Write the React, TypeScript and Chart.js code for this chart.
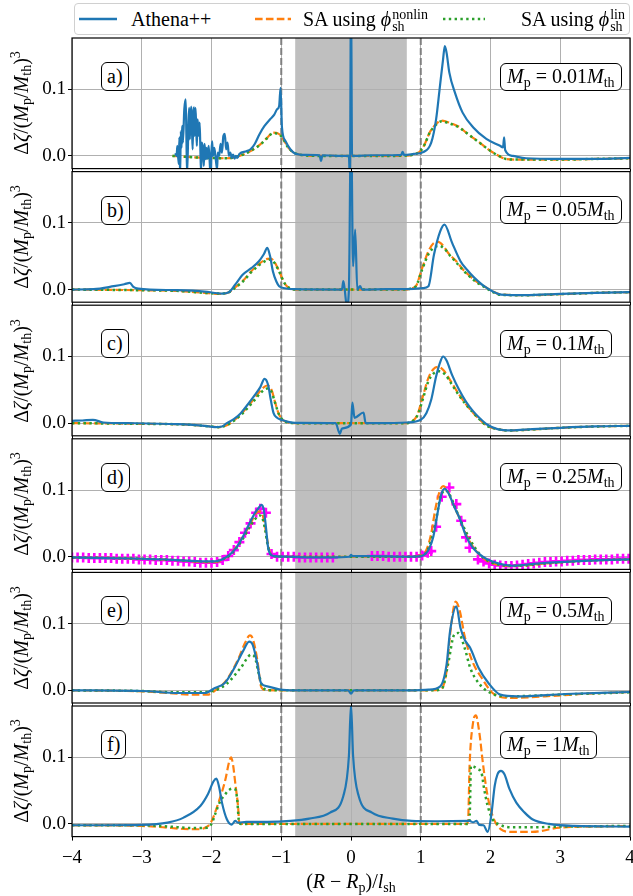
import React, { useEffect, useRef } from "react";
import { Chart, registerables } from "chart.js";

Chart.register(...registerables);

type Pt = [number, number];

// ---------- axes ----------
const xRange: [number, number] = [-4, 4];
const yRange: [number, number] = [-0.019, 0.177];
const xTickValues = [-4, -3, -2, -1, 0, 1, 2, 3, 4];
const yTickValues = [0, 0.1];
const shadedBand: [number, number] = [-0.8, 0.8];
const separatrix = [-1, 1];

const panelTags = ["a)", "b)", "c)", "d)", "e)", "f)"];
const planetMasses = ["0.01", "0.05", "0.1", "0.25", "0.5", "1"];

// ---------- panel a: Mp = 0.01 Mth ----------
const athenaA: Pt[] = [
  [-2.52, 0.004], [-2.5, 0.0], [-2.49, 0.015], [-2.47, -0.012], [-2.46, 0.028], [-2.45, -0.03],
  [-2.44, 0.037], [-2.43, 0.012], [-2.42, 0.045], [-2.41, 0.02], [-2.39, 0.07], [-2.37, 0.085],
  [-2.36, 0.03], [-2.35, -0.028], [-2.33, 0.05], [-2.32, 0.072], [-2.31, 0.025], [-2.3, 0.06],
  [-2.29, 0.074], [-2.28, 0.04], [-2.27, 0.01], [-2.26, 0.065], [-2.25, 0.073], [-2.24, 0.03],
  [-2.23, 0.072], [-2.22, 0.045], [-2.21, 0.015], [-2.2, 0.055], [-2.18, 0.03], [-2.17, 0.05],
  [-2.16, 0.012], [-2.15, -0.025], [-2.14, 0.02], [-2.12, 0.008], [-2.11, -0.015], [-2.1, 0.018],
  [-2.08, -0.005], [-2.07, 0.012], [-2.06, -0.004], [-2.04, 0.015], [-2.02, -0.02], [-2.01, -0.03],
  [-2.0, 0.008], [-1.99, 0.022], [-1.98, 0.0], [-1.96, 0.012], [-1.94, -0.004], [-1.92, -0.02],
  [-1.91, 0.005], [-1.89, 0.0], [-1.87, 0.018], [-1.85, 0.005], [-1.83, 0.03], [-1.81, 0.033],
  [-1.79, 0.01], [-1.77, 0.02], [-1.75, 0.0], [-1.73, 0.005], [-1.71, -0.003], [-1.69, 0.002],
  [-1.67, -0.004], [-1.65, 0.0], [-1.63, -0.003], [-1.6, 0.003], [-1.5, 0.007], [-1.44, 0.01],
  [-1.38, 0.018], [-1.31, 0.033], [-1.24, 0.045], [-1.16, 0.055], [-1.1, 0.062], [-1.06, 0.07],
  [-1.03, 0.075], [-1.01, 0.102], [-0.99, 0.043], [-0.94, 0.0225], [-0.87, 0.01], [-0.8, 0.0035],
  [-0.65, 0.0015], [-0.45, 0.001], [-0.43, -0.0075], [-0.41, 0.001], [-0.1, 0.0], [-0.03, 0.0],
  [-0.015, -0.04], [0.0, 0.26], [0.015, 0.0], [0.05, 0.0], [0.3, 0.001], [0.6, 0.001], [0.72, 0.0015],
  [0.74, 0.006], [0.76, 0.0015], [0.9, 0.003], [1.03, 0.0055], [1.15, 0.02], [1.22, 0.055],
  [1.27, 0.1], [1.32, 0.145], [1.345, 0.165], [1.37, 0.155], [1.41, 0.125], [1.49, 0.095],
  [1.6, 0.065], [1.75, 0.043], [1.94, 0.0255], [2.13, 0.0155], [2.18, 0.013], [2.195, 0.028],
  [2.21, 0.009], [2.32, 0.0], [2.51, -0.0035], [3.0, -0.0045], [3.5, -0.0045], [4.0, -0.003],
];
const nonlinA: Pt[] = [
  [-2.56, 0.0], [-2.16, -0.0025], [-1.78, -0.0035], [-1.6, 0.0], [-1.44, 0.0075], [-1.3, 0.0175],
  [-1.2, 0.0275], [-1.12, 0.035], [-1.04, 0.0335], [-0.97, 0.025], [-0.9, 0.0125], [-0.82, 0.005],
  [-0.68, 0.001], [-0.4, 0.0], [0.5, 0.0], [0.8, 0.0005], [0.9, 0.002], [0.95, 0.004], [1.0, 0.008],
  [1.05, 0.016], [1.13, 0.0355], [1.22, 0.048], [1.3, 0.053], [1.38, 0.051], [1.46, 0.048],
  [1.56, 0.043], [1.65, 0.035], [1.75, 0.027], [1.84, 0.0205], [1.94, 0.012], [2.03, 0.0055],
  [2.12, 0.0], [2.22, -0.0045], [2.4, -0.0055], [3.0, -0.0055], [3.5, -0.0045], [4.0, -0.0035],
];
const linA: Pt[] = [
  [-2.56, 0.0], [-2.16, -0.0025], [-1.78, -0.0035], [-1.6, 0.0], [-1.44, 0.0075], [-1.3, 0.017],
  [-1.2, 0.027], [-1.12, 0.034], [-1.04, 0.033], [-0.97, 0.025], [-0.9, 0.0125], [-0.82, 0.005],
  [-0.68, 0.001], [-0.4, 0.0], [0.5, 0.0], [0.8, 0.0005], [0.9, 0.002], [0.95, 0.004], [1.0, 0.008],
  [1.05, 0.016], [1.13, 0.035], [1.22, 0.047], [1.3, 0.052], [1.38, 0.05], [1.46, 0.047],
  [1.56, 0.042], [1.65, 0.035], [1.75, 0.027], [1.84, 0.02], [1.94, 0.012], [2.03, 0.0055],
  [2.12, 0.0], [2.22, -0.0045], [2.4, -0.0055], [3.0, -0.0055], [3.5, -0.0045], [4.0, -0.0035],
];

// ---------- panel b: Mp = 0.05 Mth ----------
const athenaB: Pt[] = [
  [-4.0, 0.0], [-3.69, 0.0005], [-3.4, 0.005], [-3.25, 0.008], [-3.17, 0.01], [-3.12, 0.004],
  [-3.05, 0.0015], [-2.5, -0.001], [-2.1, -0.003], [-1.85, -0.006], [-1.75, -0.004], [-1.67, 0.006],
  [-1.55, 0.0225], [-1.43, 0.032], [-1.32, 0.0425], [-1.25, 0.053], [-1.2, 0.0625], [-1.16, 0.05],
  [-1.12, 0.0275], [-1.07, 0.012], [-1.03, 0.005], [-0.95, 0.002], [-0.8, 0.0005], [-0.13, 0.0],
  [-0.11, 0.0125], [-0.09, 0.0], [-0.06, -0.025], [-0.03, 0.0], [0.0, 0.26], [0.03, 0.035],
  [0.06, 0.09], [0.09, 0.0], [0.13, 0.005], [0.16, 0.0], [0.5, 0.0005], [0.9, 0.001], [1.03, 0.002],
  [1.11, 0.005], [1.19, 0.0525], [1.28, 0.0875], [1.34, 0.0975], [1.45, 0.07], [1.57, 0.0425],
  [1.66, 0.03], [1.77, 0.0175], [1.91, 0.005], [2.15, -0.0075], [2.5, -0.0085], [3.0, -0.0065],
  [3.5, -0.005], [4.0, -0.004],
];
const nonlinB: Pt[] = [
  [-4.0, 0.0], [-3.0, -0.001], [-2.5, -0.002], [-2.1, -0.005], [-1.9, -0.0065], [-1.75, -0.004],
  [-1.67, 0.0025], [-1.55, 0.013], [-1.43, 0.0275], [-1.3, 0.04], [-1.2, 0.046], [-1.15, 0.0465],
  [-1.09, 0.04], [-1.03, 0.0275], [-0.97, 0.013], [-0.94, 0.0075], [-0.88, 0.002], [-0.8, 0.0],
  [0.8, 0.0], [0.87, 0.002], [0.93, 0.005], [1.02, 0.032], [1.11, 0.0575], [1.18, 0.069],
  [1.25, 0.0715], [1.32, 0.066], [1.4, 0.054], [1.51, 0.0425], [1.59, 0.032], [1.68, 0.0225],
  [1.8, 0.012], [1.91, 0.005], [2.02, -0.002], [2.15, -0.0075], [2.5, -0.0085], [3.0, -0.007],
  [3.5, -0.005], [4.0, -0.004],
];
const linB: Pt[] = [
  [-4.0, 0.0], [-3.0, -0.001], [-2.5, -0.002], [-2.1, -0.005], [-1.9, -0.006], [-1.75, -0.004],
  [-1.67, 0.002], [-1.55, 0.012], [-1.43, 0.026], [-1.3, 0.038], [-1.2, 0.044], [-1.15, 0.045],
  [-1.09, 0.039], [-1.03, 0.027], [-0.97, 0.013], [-0.94, 0.0075], [-0.88, 0.002], [-0.8, 0.0],
  [0.8, 0.0], [0.87, 0.002], [0.93, 0.005], [1.02, 0.03], [1.11, 0.053], [1.19, 0.063],
  [1.27, 0.0655], [1.34, 0.061], [1.42, 0.051], [1.51, 0.0405], [1.59, 0.031], [1.68, 0.0215],
  [1.8, 0.011], [1.91, 0.004], [2.02, -0.003], [2.15, -0.008], [2.5, -0.0085], [3.0, -0.007],
  [3.5, -0.005], [4.0, -0.004],
];

// ---------- panel c: Mp = 0.1 Mth ----------
const athenaC: Pt[] = [
  [-4.0, 0.0035], [-3.85, 0.004], [-3.7, 0.005], [-3.55, 0.001], [-3.2, 0.0], [-2.5, -0.0015],
  [-2.1, -0.004], [-1.95, -0.006], [-1.85, -0.005], [-1.78, 0.0], [-1.68, 0.006], [-1.58, 0.015],
  [-1.48, 0.028], [-1.38, 0.042], [-1.3, 0.054], [-1.24, 0.0665], [-1.19, 0.058], [-1.15, 0.035],
  [-1.11, 0.015], [-1.06, 0.008], [-1.0, 0.005], [-0.9, 0.002], [-0.8, 0.0005], [-0.22, 0.0],
  [-0.16, -0.016], [-0.13, -0.008], [0.0, -0.002], [0.02, 0.031], [0.05, 0.008], [0.18, 0.016],
  [0.21, 0.0], [0.4, 0.0], [0.8, 0.001], [1.0, 0.005], [1.08, 0.015], [1.15, 0.035], [1.22, 0.07],
  [1.28, 0.092], [1.32, 0.1], [1.37, 0.094], [1.45, 0.072], [1.55, 0.05], [1.65, 0.032],
  [1.75, 0.018], [1.85, 0.007], [1.95, -0.002], [2.1, -0.009], [2.3, -0.011], [2.6, -0.009],
  [3.0, -0.007], [3.5, -0.005], [4.0, -0.004],
];
const nonlinC: Pt[] = [
  [-4.0, 0.0], [-3.0, -0.001], [-2.4, -0.002], [-2.0, -0.005], [-1.9, -0.006], [-1.78, -0.003],
  [-1.68, 0.004], [-1.58, 0.013], [-1.48, 0.025], [-1.38, 0.038], [-1.28, 0.051], [-1.2, 0.0565],
  [-1.14, 0.05], [-1.09, 0.032], [-1.04, 0.015], [-0.99, 0.006], [-0.9, 0.001], [-0.8, 0.0],
  [0.8, 0.0], [0.88, 0.003], [0.95, 0.012], [1.03, 0.04], [1.11, 0.068], [1.18, 0.081],
  [1.25, 0.0845], [1.33, 0.079], [1.43, 0.063], [1.53, 0.046], [1.63, 0.031], [1.73, 0.018],
  [1.83, 0.007], [1.95, -0.004], [2.1, -0.009], [2.25, -0.011], [2.6, -0.0095], [3.0, -0.007],
  [3.5, -0.005], [4.0, -0.004],
];
const linC: Pt[] = [
  [-4.0, 0.0], [-3.0, -0.001], [-2.4, -0.002], [-2.0, -0.005], [-1.9, -0.006], [-1.78, -0.003],
  [-1.68, 0.0035], [-1.58, 0.012], [-1.48, 0.023], [-1.38, 0.035], [-1.28, 0.047], [-1.2, 0.052],
  [-1.14, 0.047], [-1.09, 0.031], [-1.04, 0.015], [-0.99, 0.006], [-0.9, 0.001], [-0.8, 0.0],
  [0.8, 0.0], [0.88, 0.003], [0.95, 0.011], [1.03, 0.036], [1.11, 0.063], [1.19, 0.075],
  [1.27, 0.078], [1.35, 0.073], [1.44, 0.059], [1.54, 0.043], [1.64, 0.029], [1.74, 0.017],
  [1.84, 0.006], [1.95, -0.004], [2.1, -0.009], [2.25, -0.011], [2.6, -0.0095], [3.0, -0.007],
  [3.5, -0.005], [4.0, -0.004],
];

// ---------- panel d: Mp = 0.25 Mth ----------
const athenaD: Pt[] = [
  [-4.0, -0.001], [-3.5, -0.002], [-3.0, -0.003], [-2.5, -0.005], [-2.1, -0.007], [-1.95, -0.007],
  [-1.85, -0.004], [-1.75, 0.002], [-1.65, 0.013], [-1.55, 0.03], [-1.46, 0.049], [-1.38, 0.065],
  [-1.32, 0.074], [-1.28, 0.078], [-1.25, 0.07], [-1.22, 0.045], [-1.19, 0.015], [-1.15, 0.003],
  [-1.1, 0.001], [-0.9, 0.0], [-0.6, -0.001], [-0.3, -0.001], [-0.02, 0.0], [0.0, 0.003],
  [0.02, 0.001], [0.3, 0.001], [0.8, 0.0], [1.0, 0.001], [1.06, 0.004], [1.12, 0.012],
  [1.18, 0.03], [1.24, 0.065], [1.29, 0.092], [1.34, 0.102], [1.4, 0.095], [1.48, 0.075],
  [1.56, 0.057], [1.65, 0.031], [1.75, 0.013], [1.89, 0.0], [2.0, -0.006], [2.15, -0.011],
  [2.32, -0.0135], [2.5, -0.012], [2.8, -0.009], [3.2, -0.007], [3.6, -0.005], [4.0, -0.004],
];
const nonlinD: Pt[] = [
  [-4.0, -0.001], [-3.0, -0.003], [-2.5, -0.005], [-2.1, -0.008], [-1.95, -0.008], [-1.85, -0.005],
  [-1.75, 0.002], [-1.65, 0.014], [-1.55, 0.03], [-1.45, 0.048], [-1.38, 0.062], [-1.33, 0.068],
  [-1.28, 0.066], [-1.24, 0.05], [-1.2, 0.025], [-1.16, 0.006], [-1.1, 0.001], [-0.9, 0.0],
  [0.8, 0.0], [1.0, 0.002], [1.08, 0.01], [1.15, 0.035], [1.21, 0.072], [1.27, 0.098],
  [1.32, 0.106], [1.38, 0.1], [1.46, 0.08], [1.56, 0.057], [1.65, 0.033], [1.75, 0.015],
  [1.85, 0.002], [1.95, -0.006], [2.1, -0.012], [2.3, -0.014], [2.5, -0.013], [2.8, -0.01],
  [3.2, -0.007], [3.6, -0.005], [4.0, -0.004],
];
const linD: Pt[] = [
  [-4.0, -0.001], [-3.0, -0.003], [-2.5, -0.005], [-2.1, -0.007], [-1.95, -0.007], [-1.85, -0.004],
  [-1.75, 0.001], [-1.65, 0.012], [-1.55, 0.027], [-1.45, 0.045], [-1.37, 0.057], [-1.31, 0.062],
  [-1.27, 0.058], [-1.23, 0.04], [-1.19, 0.015], [-1.15, 0.003], [-1.1, 0.001], [-0.9, 0.0],
  [0.8, 0.0], [1.0, 0.001], [1.1, 0.01], [1.2, 0.045], [1.28, 0.088], [1.35, 0.1], [1.42, 0.092],
  [1.5, 0.072], [1.6, 0.048], [1.7, 0.027], [1.8, 0.01], [1.9, -0.002], [2.0, -0.008],
  [2.2, -0.013], [2.4, -0.0135], [2.7, -0.011], [3.2, -0.007], [3.6, -0.005], [4.0, -0.004],
];
// coarser second model shown only in panel d
const markersD: Pt[] = [
  [-4.0, -0.001], [-3.92, -0.001], [-3.84, -0.001], [-3.76, -0.002], [-3.68, -0.002], [-3.6, -0.002],
  [-3.52, -0.002], [-3.44, -0.002], [-3.36, -0.003], [-3.28, -0.003], [-3.2, -0.003], [-3.12, -0.003],
  [-3.04, -0.004], [-2.96, -0.004], [-2.88, -0.004], [-2.8, -0.005], [-2.72, -0.005], [-2.64, -0.005],
  [-2.56, -0.006], [-2.48, -0.006], [-2.4, -0.007], [-2.32, -0.007], [-2.24, -0.008], [-2.16, -0.009],
  [-2.08, -0.009], [-2.0, -0.009], [-1.92, -0.008], [-1.84, -0.005], [-1.76, 0.001], [-1.68, 0.01],
  [-1.6, 0.022], [-1.52, 0.036], [-1.44, 0.05], [-1.36, 0.066], [-1.3, 0.072], [-1.22, 0.066],
  [-1.14, 0.004], [-1.06, 0.0], [-0.98, 0.0], [-0.9, 0.0], [-0.82, 0.0], [-0.74, -0.001],
  [-0.66, -0.001], [-0.58, -0.001], [-0.5, -0.001], [-0.42, -0.001], [-0.34, -0.001], [-0.26, -0.001],
  [0.3, 0.001], [0.38, 0.001], [0.46, 0.001], [0.54, 0.0], [0.62, 0.0], [0.7, 0.0], [0.78, 0.0],
  [0.86, 0.0], [0.94, 0.0], [1.02, 0.002], [1.1, 0.006], [1.15, 0.0085], [1.22, 0.045], [1.3, 0.09],
  [1.41, 0.104], [1.51, 0.079], [1.58, 0.054], [1.65, 0.029], [1.7, 0.0135], [1.82, -0.004],
  [1.9, -0.007], [1.98, -0.01], [2.06, -0.012], [2.14, -0.013], [2.22, -0.014], [2.3, -0.014],
  [2.38, -0.013], [2.46, -0.012], [2.54, -0.011], [2.62, -0.01], [2.7, -0.009], [2.78, -0.008],
  [2.86, -0.008], [2.94, -0.007], [3.02, -0.007], [3.1, -0.006], [3.18, -0.006], [3.26, -0.005],
  [3.34, -0.005], [3.42, -0.005], [3.5, -0.004], [3.58, -0.004], [3.66, -0.004], [3.74, -0.004],
  [3.82, -0.003], [3.9, -0.003], [3.98, -0.003],
];

// ---------- panel e: Mp = 0.5 Mth ----------
const athenaE: Pt[] = [
  [-4.0, 0.0], [-3.0, -0.001], [-2.47, -0.004], [-2.1, -0.004], [-1.95, 0.0035], [-1.81, 0.011],
  [-1.67, 0.034], [-1.55, 0.0585], [-1.46, 0.073], [-1.41, 0.0685], [-1.35, 0.0435], [-1.29, 0.011],
  [-1.2, 0.006], [-1.03, 0.0015], [-0.8, 0.0], [-0.04, 0.0], [0.0, -0.005], [0.04, 0.0], [0.8, 0.0],
  [1.11, 0.001], [1.28, 0.006], [1.37, 0.0385], [1.42, 0.0885], [1.51, 0.126], [1.57, 0.0935],
  [1.63, 0.076], [1.71, 0.0635], [1.83, 0.0335], [1.97, 0.011], [2.14, -0.0065], [2.38, -0.009],
  [3.07, -0.0055], [4.0, -0.0025],
];
const nonlinE: Pt[] = [
  [-4.0, 0.0], [-3.0, -0.0015], [-2.6, -0.004], [-2.3, -0.0065], [-2.06, -0.0065], [-1.95, -0.0005],
  [-1.78, 0.016], [-1.61, 0.0485], [-1.52, 0.071], [-1.45, 0.0825], [-1.41, 0.078], [-1.34, 0.0435],
  [-1.29, 0.006], [-1.23, 0.0005], [-1.0, 0.0], [1.0, 0.0], [1.28, 0.001], [1.37, 0.0285],
  [1.42, 0.0835], [1.5, 0.133], [1.56, 0.119], [1.63, 0.081], [1.74, 0.0435], [1.89, 0.016],
  [2.03, -0.004], [2.26, -0.0115], [2.78, -0.009], [3.3, -0.0055], [4.0, -0.0025],
];
const linE: Pt[] = [
  [-4.0, 0.0], [-3.0, -0.001], [-2.5, -0.003], [-2.24, -0.003], [-1.95, 0.0], [-1.78, 0.01],
  [-1.58, 0.034], [-1.43, 0.0535], [-1.38, 0.05], [-1.32, 0.024], [-1.26, 0.0035], [-1.15, 0.0],
  [1.2, 0.0], [1.31, 0.0035], [1.39, 0.0385], [1.48, 0.0835], [1.54, 0.086], [1.63, 0.0635],
  [1.71, 0.0335], [1.83, 0.011], [2.0, -0.004], [2.26, -0.009], [3.07, -0.006], [4.0, -0.003],
];

// ---------- panel f: Mp = 1 Mth ----------
const athenaF: Pt[] = [
  [-4.0, -0.002], [-3.5, -0.002], [-3.0, -0.0015], [-2.63, 0.002], [-2.4, 0.0095], [-2.16, 0.027],
  [-2.05, 0.045], [-1.97, 0.064], [-1.93, 0.068], [-1.89, 0.055], [-1.85, 0.032], [-1.78, 0.007],
  [-1.71, -0.001], [-1.66, 0.0045], [-1.62, 0.002], [-1.5, 0.003], [-1.2, 0.003], [-0.87, 0.0045],
  [-0.6, 0.008], [-0.3, 0.017], [-0.11, 0.042], [-0.03, 0.102], [0.0, 0.18], [0.03, 0.102],
  [0.11, 0.042], [0.3, 0.017], [0.6, 0.008], [0.87, 0.0045], [1.2, 0.004], [1.7, 0.0045],
  [1.75, 0.0025], [1.8, 0.0045], [1.84, -0.0015], [1.9, -0.002], [1.96, -0.012], [2.01, 0.012],
  [2.06, 0.057], [2.1, 0.0745], [2.15, 0.0795], [2.2, 0.0745], [2.27, 0.053], [2.37, 0.032],
  [2.49, 0.017], [2.6, 0.007], [2.84, 0.0], [3.2, -0.003], [4.0, -0.004],
];
const nonlinF: Pt[] = [
  [-4.0, -0.002], [-3.0, -0.003], [-2.7, -0.005], [-2.4, -0.0075], [-2.2, -0.008], [-2.1, -0.006],
  [-2.01, 0.002], [-1.9, 0.032], [-1.8, 0.067], [-1.75, 0.092], [-1.72, 0.1], [-1.69, 0.088],
  [-1.66, 0.062], [-1.62, 0.027], [-1.6, 0.001], [-1.5, 0.0], [1.66, 0.0], [1.68, 0.007],
  [1.7, 0.087], [1.75, 0.152], [1.79, 0.163], [1.84, 0.137], [1.89, 0.092], [1.95, 0.047],
  [2.03, 0.012], [2.15, -0.008], [2.3, -0.012], [2.6, -0.012], [2.99, -0.0055], [3.5, -0.004],
  [4.0, -0.003],
];
const linF: Pt[] = [
  [-4.0, -0.002], [-3.0, -0.002], [-2.6, -0.004], [-2.3, -0.006], [-2.1, -0.006], [-2.0, 0.0],
  [-1.94, 0.017], [-1.87, 0.035], [-1.82, 0.042], [-1.76, 0.05], [-1.7, 0.053], [-1.66, 0.052],
  [-1.63, 0.035], [-1.61, 0.007], [-1.58, 0.0], [1.68, 0.0], [1.7, 0.007], [1.72, 0.087],
  [1.76, 0.086], [1.82, 0.082], [1.87, 0.077], [1.91, 0.052], [1.96, 0.027], [2.03, 0.007],
  [2.13, -0.001], [2.3, -0.005], [2.6, -0.005], [3.0, -0.004], [4.0, -0.003],
];

const athenaSeries = [athenaA, athenaB, athenaC, athenaD, athenaE, athenaF];
const nonlinSeries = [nonlinA, nonlinB, nonlinC, nonlinD, nonlinE, nonlinF];
const linSeries = [linA, linB, linC, linD, linE, linF];
const markerSeries: (Pt[] | null)[] = [null, null, null, markersD, null, null];

// ---------- look ----------
const SERIF = "'Liberation Serif', 'DejaVu Serif', serif";
const FONT_PX = 20;
const TICK_PX = 19;
const BLUE = "#1f77b4";
const ORANGE = "#ff7f0e";
const GREEN = "#2ca02c";
const MAGENTA = "#ff00ff";

const PAGE_W = 633;
const PAGE_H = 896;
const PLOT_LEFT = 72;
const PLOT_RIGHT = 630;
const FIRST_TOP = 38;
const PANEL_STEP = 133.6;
const PANEL_H = 130.6;

function geom(i: number) {
  const top = FIRST_TOP + i * PANEL_STEP;
  const canvasTop = Math.floor(top) - 6;
  const padTop = top - canvasTop;
  const last = i === panelTags.length - 1;
  const xAxisH = last ? 44 : 6;
  const canvasH = Math.ceil(padTop + PANEL_H + xAxisH);
  const padBottom = canvasH - padTop - PANEL_H - xAxisH;
  return { top, canvasTop, padTop, last, xAxisH, canvasH, padBottom };
}

const toXY = (pts: Pt[]) => pts.map(([x, y]) => ({ x, y }));
const signed = (v: number) => (v < 0 ? "\u2212" + Math.abs(v) : String(v));

const panelDecor = {
  id: "panelDecor",
  beforeDraw(chart: any) {
    const { ctx, chartArea, scales } = chart;
    const l = scales.x.getPixelForValue(shadedBand[0]);
    const r = scales.x.getPixelForValue(shadedBand[1]);
    ctx.save();
    ctx.fillStyle = "#bfbfbf";
    ctx.fillRect(l, chartArea.top, r - l, chartArea.bottom - chartArea.top);
    ctx.restore();
  },
  beforeDatasetsDraw(chart: any) {
    const { ctx, chartArea, scales } = chart;
    ctx.save();
    ctx.strokeStyle = "#808080";
    ctx.lineWidth = 2;
    ctx.setLineDash([7, 3]);
    for (const v of separatrix) {
      const px = scales.x.getPixelForValue(v);
      ctx.beginPath();
      ctx.moveTo(px, chartArea.top);
      ctx.lineTo(px, chartArea.bottom);
      ctx.stroke();
    }
    ctx.restore();
  },
  afterDraw(chart: any) {
    const { ctx, chartArea } = chart;
    ctx.save();
    ctx.strokeStyle = "#000";
    ctx.lineWidth = 1.2;
    ctx.strokeRect(chartArea.left, chartArea.top, chartArea.right - chartArea.left, chartArea.bottom - chartArea.top);
    ctx.restore();
  },
};

function buildConfig(i: number): any {
  const g = geom(i);
  const font = { family: SERIF, size: TICK_PX };
  const lineBase = { pointRadius: 0, fill: false, cubicInterpolationMode: "monotone" as const, borderWidth: 2.2 };
  const datasets: any[] = [];
  const marks = markerSeries[i];
  if (marks) {
    datasets.push({
      data: toXY(marks), showLine: false, pointStyle: "cross", pointRadius: 5,
      pointBorderWidth: 2.6, borderColor: MAGENTA, backgroundColor: MAGENTA, order: 4, clip: 0,
    });
  }
  datasets.push({ ...lineBase, data: toXY(nonlinSeries[i]), borderColor: ORANGE, borderDash: [7.6, 3.3], order: 3 });
  datasets.push({ ...lineBase, data: toXY(linSeries[i]), borderColor: GREEN, borderWidth: 2.5, borderDash: [2.4, 3.4], order: 2 });
  datasets.push({ ...lineBase, data: toXY(athenaSeries[i]), borderColor: BLUE, order: 1 });

  return {
    type: "line",
    data: { datasets },
    plugins: [panelDecor],
    options: {
      responsive: false,
      animation: false,
      events: [],
      layout: { autoPadding: false, padding: { top: g.padTop, bottom: g.padBottom, left: 0, right: PAGE_W - PLOT_RIGHT } },
      plugins: { legend: { display: false }, tooltip: { enabled: false } },
      scales: {
        x: {
          type: "linear",
          min: xRange[0],
          max: xRange[1],
          afterBuildTicks: (s: any) => { s.ticks = xTickValues.map((value) => ({ value })); },
          ticks: { display: g.last, callback: (v: number) => signed(v), font, color: "#000", padding: 6, maxRotation: 0, autoSkip: false },
          grid: { color: "#b0b0b0", lineWidth: 1, tickColor: "#000", tickLength: 4, drawTicks: true },
          border: { display: false },
          afterFit: (s: any) => { s.height = g.xAxisH; s.paddingLeft = 0; s.paddingRight = 0; },
        },
        y: {
          type: "linear",
          min: yRange[0],
          max: yRange[1],
          afterBuildTicks: (s: any) => { s.ticks = yTickValues.map((value) => ({ value })); },
          ticks: { callback: (v: number) => v.toFixed(1), font, color: "#000", padding: 2 },
          grid: { color: "#b0b0b0", lineWidth: 1, tickColor: "#000", tickLength: 4, drawTicks: true },
          border: { display: false },
          afterFit: (s: any) => { s.width = PLOT_LEFT; s.paddingTop = 0; s.paddingBottom = 0; },
        },
      },
    },
  };
}

const Sub = ({ children }: { children: React.ReactNode }) => (
  <span style={{ fontSize: "0.7em", verticalAlign: "-0.25em", fontStyle: "normal" }}>{children}</span>
);
const Sup = ({ children }: { children: React.ReactNode }) => (
  <span style={{ fontSize: "0.7em", verticalAlign: "0.55em", fontStyle: "normal" }}>{children}</span>
);
// stacked sub/superscript pair, e.g. phi_sh^nonlin
const SubSup = ({ sub, sup }: { sub: string; sup: string }) => (
  <span style={{ display: "inline-block", fontSize: "0.7em", lineHeight: "12.5px", verticalAlign: "-5px", textAlign: "left", marginLeft: 1 }}>
    <span style={{ display: "block" }}>{sup}</span>
    <span style={{ display: "block" }}>{sub}</span>
  </span>
);

export default function App() {
  const refs = useRef<(HTMLCanvasElement | null)[]>([]);

  useEffect(() => {
    const charts = panelTags.map((_, i) => new Chart(refs.current[i] as HTMLCanvasElement, buildConfig(i)));
    return () => charts.forEach((c) => c.destroy());
  }, []);

  const text: React.CSSProperties = { position: "absolute", fontFamily: SERIF, fontSize: FONT_PX, color: "#000", whiteSpace: "nowrap" };
  const boxStyle: React.CSSProperties = {
    ...text, height: 29, boxSizing: "border-box", border: "1.5px solid #000", borderRadius: 6,
    background: "#fff", lineHeight: "26px", padding: "0 5px",
  };

  return (
    <div style={{ position: "absolute", left: 0, top: 0, width: PAGE_W, height: PAGE_H, overflow: "hidden", background: "#fff" }}>
      {panelTags.map((tag, i) => {
        const g = geom(i);
        return (
          <canvas
            key={tag}
            ref={(el) => { refs.current[i] = el; }}
            width={PAGE_W}
            height={g.canvasH}
            style={{ position: "absolute", left: 0, top: g.canvasTop, width: PAGE_W, height: g.canvasH }}
          />
        );
      })}

      {panelTags.map((tag, i) => {
        const g = geom(i);
        const cy = g.top + PANEL_H / 2;
        return (
          <React.Fragment key={"ov" + tag}>
            <div style={{ ...text, left: 16 - 80, top: cy - 12, width: 160, height: 24, lineHeight: "24px", textAlign: "center", transform: "rotate(-90deg)" }}>
              Δ<i>ζ</i>/(<i>M</i><Sub>p</Sub>/<i>M</i><Sub>th</Sub>)<Sup>3</Sup>
            </div>
            <div style={{ ...boxStyle, left: 101, top: g.top + 24 }}>{tag}</div>
            <div style={{ ...boxStyle, left: 500, top: g.top + 24.5, height: 28, lineHeight: "25px", padding: "0 6px" }}>
              <i>M</i><Sub>p</Sub> = {planetMasses[i]}<i>M</i><Sub>th</Sub>
            </div>
          </React.Fragment>
        );
      })}

      <div style={{ ...text, left: 301, width: 100, top: 869, lineHeight: "24px", textAlign: "center" }}>
        (<i>R</i> − <i>R</i><Sub>p</Sub>)/<i>l</i><Sub>sh</Sub>
      </div>

      {/* legend */}
      <div style={{ position: "absolute", left: 74, top: 3, width: 556, height: 32, boxSizing: "border-box", border: "1px solid #d0d0d0", borderRadius: 4, background: "#fff" }} />
      <svg width={PAGE_W} height={40} style={{ position: "absolute", left: 0, top: 0 }}>
        <line x1={79} y1={19} x2={117} y2={19} stroke={BLUE} strokeWidth={2.4} />
        <line x1={255} y1={19} x2={291} y2={19} stroke={ORANGE} strokeWidth={2.4} strokeDasharray="7.6 3.3" />
        <line x1={443} y1={19} x2={485} y2={19} stroke={GREEN} strokeWidth={2.6} strokeDasharray="2.4 3.4" />
      </svg>
      <div style={{ ...text, left: 131, top: 7, lineHeight: "24px" }}>Athena++</div>
      <div style={{ ...text, left: 303, top: 7, lineHeight: "24px" }}>
        SA using <i>ϕ</i><SubSup sub="sh" sup="nonlin" />
      </div>
      <div style={{ ...text, left: 521, top: 7, lineHeight: "24px" }}>
        SA using <i>ϕ</i><SubSup sub="sh" sup="lin" />
      </div>
    </div>
  );
}
